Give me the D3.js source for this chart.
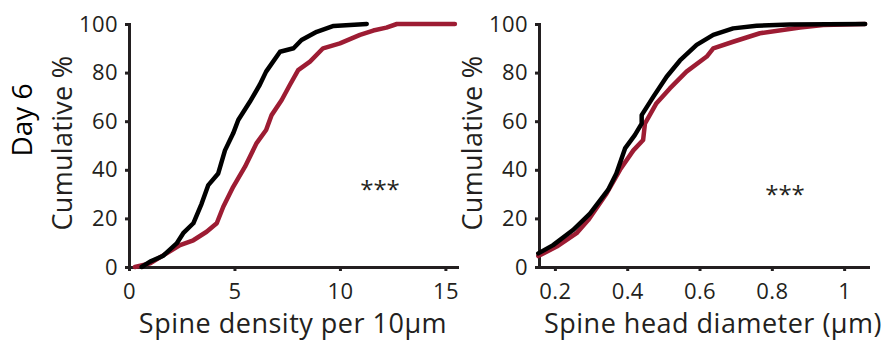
<!DOCTYPE html>
<html>
<head>
<meta charset="utf-8">
<script src="https://cdn.jsdelivr.net/npm/d3@7"></script>
<style>
  body { margin: 0; background: #fff; }
  svg { display: block; font-family: "Open Sans", sans-serif; }
  .axis path, .axis line { stroke: #231f20; stroke-width: 3; }
  .axis text { fill: #231f20; font-size: 22px; letter-spacing: 0.4px; font-family: "Open Sans", sans-serif; }
</style>
</head>
<body>
<svg id="chart" width="893" height="345"></svg>
<script>
// density panel (spine density per 10um vs cumulative %)
const densBlackX = [0.6, 1.0, 1.6, 2.26, 2.57, 3.05, 3.44, 3.76, 4.23, 4.55, 4.94, 5.18, 5.73, 6.2, 6.5, 7.16, 7.8, 8.18, 8.9, 9.7, 11.27]
const densBlackY = [0, 2.2, 4.5, 9.7, 13.9, 18, 26, 33.7, 38.5, 48, 55, 60.5, 68, 75, 80.4, 88.6, 90, 93.4, 96.8, 99.2, 100]
const densRedX = [0.28, 1.0, 1.78, 2.42, 3.05, 3.68, 4.16, 4.47, 4.94, 5.5, 6.05, 6.5, 6.76, 7.24, 7.63, 8.02, 8.58, 9.2, 10.0, 10.95, 11.58, 12.2, 12.7, 15.45]
const densRedY = [0, 1.5, 5.6, 9, 11, 14.5, 18, 24.8, 33, 41.3, 51, 56.4, 62.5, 68.7, 75, 81, 84.5, 90, 92, 95.5, 97.3, 98.5, 100, 100]

// head diameter panel (um vs cumulative %)
const headBlackX = [0.154, 0.195, 0.25, 0.297, 0.347, 0.37, 0.394, 0.421, 0.44, 0.44, 0.472, 0.509, 0.546, 0.592, 0.638, 0.693, 0.758, 0.85, 1.058]
const headBlackY = [5.6, 9, 15.2, 22, 31.7, 38.5, 48.8, 54.3, 59, 62.5, 70, 78.3, 85, 91.4, 95.5, 98.2, 99.3, 99.8, 100]
const headRedX = [0.154, 0.205, 0.26, 0.292, 0.343, 0.38, 0.417, 0.444, 0.449, 0.481, 0.518, 0.564, 0.62, 0.638, 0.693, 0.767, 0.878, 0.942, 1.058]
const headRedY = [4.5, 8.4, 13.9, 19.3, 30.3, 40, 48, 52.3, 59, 67.4, 73.5, 80.4, 86.6, 90, 92.7, 96.2, 98.6, 99.6, 100]

const yTicks = [0, 20, 40, 60, 80, 100]
const densTicks = [0, 5, 10, 15]
const headTicks = [0.2, 0.4, 0.6, 0.8, 1]

const red = '#9d1c33'
const ink = '#231f20'

const svg = d3.select('#chart')
svg.append('rect').attr('width', 893).attr('height', 345).attr('fill', '#fff')

const plotTop = 24, plotBottom = 267

function panel(opts) {
    const x = d3.scaleLinear().domain(opts.xDomain).range([opts.left, opts.right])
    const y = d3.scaleLinear().domain([0, 100]).range([plotBottom, plotTop])
    const g = svg.append('g')

    g.append('g')
        .attr('class', 'axis')
        .attr('transform', `translate(0, ${plotBottom})`)
        .call(d3.axisBottom(x).tickValues(opts.xTicks).tickSize(4).tickSizeOuter(0).tickPadding(12).tickFormat(d3.format('~g')))

    g.append('g')
        .attr('class', 'axis')
        .attr('transform', `translate(${opts.left}, 0)`)
        .call(d3.axisLeft(y).tickValues(yTicks).tickSize(4).tickSizeOuter(0).tickPadding(7))

    g.selectAll('.axis path').attr('stroke-linecap', 'square')

    const line = d3.line()
        .x(d => x(d[0]))
        .y(d => y(d[1]))

    const series = [
        { xs: opts.redX, ys: opts.redY, color: red },
        { xs: opts.blackX, ys: opts.blackY, color: '#000' }
    ]
    series.forEach(s => {
        g.append('path')
            .datum(d3.zip(s.xs, s.ys))
            .attr('fill', 'none')
            .attr('stroke', s.color)
            .attr('stroke-width', 4.5)
            .attr('stroke-linejoin', 'round')
            .attr('stroke-linecap', 'round')
            .attr('d', line)
    })

    g.append('text')
        .attr('transform', `translate(${opts.ylabX}, 143) rotate(-90)`)
        .attr('text-anchor', 'middle')
        .attr('font-size', 27)
        .attr('letter-spacing', 0.3)
        .attr('fill', ink)
        .text('Cumulative %')

    g.append('text')
        .attr('x', opts.xlabX)
        .attr('y', 333)
        .attr('text-anchor', 'middle')
        .attr('font-size', 27)
        .attr('letter-spacing', 0.5)
        .attr('fill', ink)
        .text(opts.xlab)

    g.append('text')
        .attr('x', opts.starX)
        .attr('y', opts.starY)
        .attr('text-anchor', 'middle')
        .attr('font-size', 24)
        .attr('fill', ink)
        .text('***')
}

panel({
    xDomain: [0, 15.55], left: 129, right: 457, xTicks: densTicks,
    redX: densRedX, redY: densRedY, blackX: densBlackX, blackY: densBlackY,
    ylabX: 72, xlabX: 293, xlab: 'Spine density per 10µm', starX: 380, starY: 198
})

panel({
    xDomain: [0.156, 1.066], left: 539, right: 868, xTicks: headTicks,
    redX: headRedX, redY: headRedY, blackX: headBlackX, blackY: headBlackY,
    ylabX: 482, xlabX: 713, xlab: 'Spine head diameter (µm)', starX: 785, starY: 203
})

svg.append('text')
    .attr('transform', 'translate(32, 120) rotate(-90)')
    .attr('text-anchor', 'middle')
    .attr('font-size', 28)
    .attr('fill', '#000')
    .text('Day 6')
</script>
</body>
</html>
